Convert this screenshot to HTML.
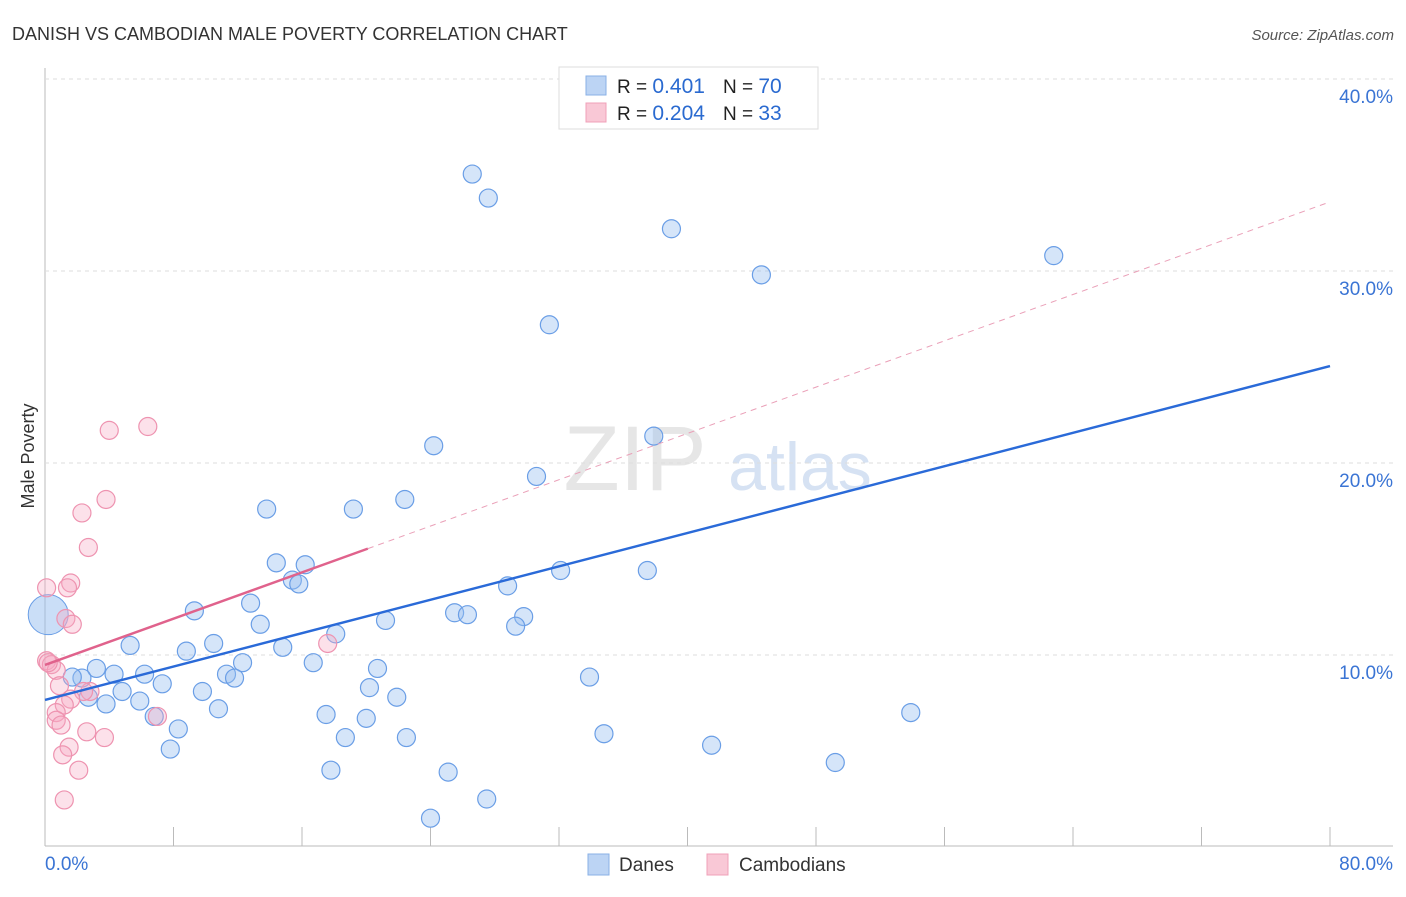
<!DOCTYPE html>
<html><head><meta charset="utf-8"><style>
body{margin:0;background:#fff;font-family:"Liberation Sans",sans-serif;}
svg text{font-family:"Liberation Sans",sans-serif;}
</style></head><body>
<svg id="chart" width="1406" height="892">
<text x="12" y="40" font-size="18" fill="#333">DANISH VS CAMBODIAN MALE POVERTY CORRELATION CHART</text>
<text x="1394" y="40" font-size="15" fill="#555" font-style="italic" text-anchor="end">Source: ZipAtlas.com</text>
<text x="34" y="456" font-size="18" fill="#333" text-anchor="middle" transform="rotate(-90 34 456)">Male Poverty</text>
<g><text x="635" y="490" font-size="92" font-family="Liberation Serif" fill="#e6e6e6" text-anchor="middle">ZIP</text><text x="800" y="490" font-size="68" fill="#d6e2f3" text-anchor="middle">atlas</text></g>
<g id="grid"></g><g id="marks"></g>
<g>
<rect x="559" y="67" width="259" height="62" fill="#fff" stroke="#ddd"/>
<rect x="586" y="76" width="20" height="19" fill="#bcd4f4" stroke="#8ab0e6"/>
<rect x="586" y="103" width="20" height="19" fill="#f9c8d6" stroke="#f0a0b8"/>
<text x="617" y="93" font-size="19" fill="#222">R = <tspan fill="#2a6ad0" font-size="21">0.401</tspan><tspan dx="18">N = </tspan><tspan fill="#2a6ad0" font-size="21">70</tspan></text>
<text x="617" y="120" font-size="19" fill="#222">R = <tspan fill="#2a6ad0" font-size="21">0.204</tspan><tspan dx="18">N = </tspan><tspan fill="#2a6ad0" font-size="21"> 33</tspan></text>
</g>
<g>
<rect x="588" y="854" width="21" height="21" fill="#bcd4f4" stroke="#8ab0e6"/>
<text x="619" y="871" font-size="19" fill="#333">Danes</text>
<rect x="707" y="854" width="21" height="21" fill="#f9c8d6" stroke="#f0a0b8"/>
<text x="739" y="871" font-size="19" fill="#333">Cambodians</text>
</g>
</svg>
<script>
const xTickLabels=["0.0%","80.0%"];
const yTicks=[10,20,30,40];
const yTickLabels=["10.0%","20.0%","30.0%","40.0%"];
const danesX=[26.6,27.6,39.0,44.6,62.8,31.4,24.2,37.9,30.6,22.4,19.2,13.8,14.4,16.2,15.4,15.8,32.1,37.5,28.8,9.3,12.8,25.5,26.3,29.8,29.3,21.2,13.4,18.1,5.3,8.8,10.5,14.8,3.2,4.3,6.2,12.3,16.7,20.7,2.3,1.7,7.3,11.3,11.8,33.9,4.8,2.7,9.8,20.2,21.9,3.8,5.9,10.8,6.8,17.5,8.3,20.0,53.9,34.8,18.7,22.5,7.8,41.5,17.8,25.1,49.2,27.5,24.0];
const danesY=[35.05,33.8,32.2,29.8,30.8,27.2,20.9,21.4,19.3,18.1,17.6,17.6,14.8,14.7,13.9,13.7,14.4,14.4,13.6,12.3,12.7,12.2,12.1,12.0,11.5,11.8,11.6,11.1,10.5,10.2,10.6,10.4,9.3,9.0,9.0,9.6,9.6,9.3,8.8,8.85,8.5,9.0,8.8,8.85,8.1,7.8,8.1,8.3,7.8,7.45,7.6,7.2,6.8,6.9,6.15,6.7,7.0,5.9,5.7,5.7,5.1,5.3,4.0,3.9,4.4,2.5,1.5];
const camX=[4.0,6.4,3.8,2.3,2.7,0.1,1.6,1.4,1.3,1.7,17.6,0.1,0.4,0.7,0.9,2.8,2.4,1.6,1.2,0.7,0.7,1.0,2.6,3.7,1.5,1.1,2.1,1.2,7.0,0.2];
const camY=[21.7,21.9,18.1,17.4,15.6,13.5,13.75,13.5,11.9,11.6,10.6,9.7,9.5,9.2,8.4,8.1,8.1,7.7,7.4,7.0,6.6,6.35,6.0,5.7,5.2,4.8,4.0,2.45,6.8,9.6];
const bigDaneX=[0.2], bigDaneY=[12.1];
const danesTrend=[7.66,25.05];
const camTrend=[9.48,33.6];
const camSolidEnd=[20.1];
const NS="http://www.w3.org/2000/svg";
const X=v=>45+v/80*1285, Y=v=>847-v*19.2;
const grid=document.getElementById('grid'), marks=document.getElementById('marks');
function mk(tag,attrs,parent){const e=document.createElementNS(NS,tag);for(const k in attrs)e.setAttribute(k,attrs[k]);parent.appendChild(e);return e;}
let ax=mk('line',{x1:45,y1:68,x2:45,y2:846,stroke:'#bbb'},grid);


let bx=mk('line',{x1:45,y1:846,x2:1393,y2:846,stroke:'#bbb'},grid);


for(let i=1;i<=10;i++){const t=mk('line',{x1:X(i*8),y1:827,x2:X(i*8),y2:846,stroke:'#bbb'},grid);

}
yTicks.forEach((v,i)=>{const g=mk('line',{x1:45,y1:Y(v),x2:1393,y2:Y(v),stroke:'#ddd','stroke-dasharray':'4 4'},grid);


const t=mk('text',{x:1393,y:Y(v)+24,'font-size':19,fill:'#3a74d4','text-anchor':'end'},grid);t.textContent=yTickLabels[i];

});
[[0,45,'start'],[1,1393,'end']].forEach(([i,x,a])=>{const t=mk('text',{x:x,y:870,'font-size':19,fill:'#3a74d4','text-anchor':a},grid);t.textContent=xTickLabels[i];

});
danesX.forEach((v,i)=>{const c=mk('circle',{cx:X(v),cy:Y(danesY[i]),r:9,fill:'rgba(150,190,240,0.4)',stroke:'#6a9ee6','stroke-width':1.2},marks);

});
const bd=mk('circle',{cx:X(bigDaneX[0]),cy:Y(bigDaneY[0]),r:20,fill:'rgba(150,190,240,0.5)',stroke:'#6a9ee6'},marks);


camX.forEach((v,i)=>{const c=mk('circle',{cx:X(v),cy:Y(camY[i]),r:9,fill:'rgba(245,170,195,0.35)',stroke:'#ee93b0','stroke-width':1.2},marks);

});
const cy=x=>camTrend[0]+(camTrend[1]-camTrend[0])*x/80;
const l1=mk('line',{x1:X(0),y1:Y(danesTrend[0]),x2:X(80),y2:Y(danesTrend[1]),stroke:'#2a6ad8','stroke-width':2.5},marks);


const l2=mk('line',{x1:X(0),y1:Y(cy(0)),x2:X(camSolidEnd[0]),y2:Y(cy(camSolidEnd[0])),stroke:'#e0628c','stroke-width':2.5},marks);


const l3=mk('line',{x1:X(camSolidEnd[0]),y1:Y(cy(camSolidEnd[0])),x2:X(80),y2:Y(cy(80)),stroke:'#eaa0b8','stroke-width':1,'stroke-dasharray':'6 5'},marks);


</script>
</body></html>
